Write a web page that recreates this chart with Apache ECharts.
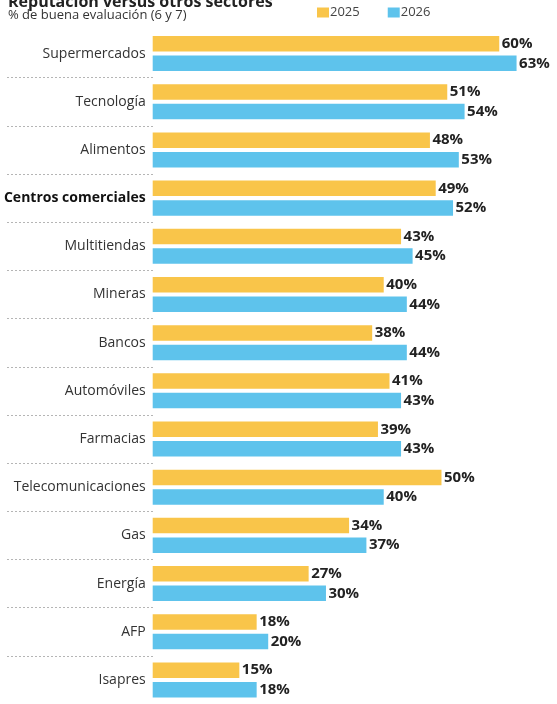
<!DOCTYPE html>
<html>
<head>
<meta charset="utf-8">
<script src="https://cdn.jsdelivr.net/npm/echarts@6/dist/echarts.min.js"></script>
<style>
html,body{margin:0;padding:0;background:#fff;overflow:hidden;}
#c{width:557px;height:704px;}
</style>
</head>
<body>
<div id="c"></div>
<script>
const categories = ['Supermercados','Tecnología','Alimentos','Centros comerciales','Multitiendas','Mineras','Bancos','Automóviles','Farmacias','Telecomunicaciones','Gas','Energía','AFP','Isapres'];
const values2025 = [60,51,48,49,43,40,38,41,39,50,34,27,18,15];
const values2026 = [63,54,53,52,45,44,44,43,43,40,37,30,20,18];
const seriesNames = ['2025','2026'];
const highlighted = 'Centros comerciales';

const FONT = '"Open Sans", sans-serif';
const chart = echarts.init(document.getElementById('c'));
const gridTop = 29.5, gridHeight = 682.5;
const labelStyle = {
  show: true, position: 'right', distance: 2.5,
  formatter: p => p.value + '%',
  fontFamily: FONT, fontSize: 15, fontWeight: 'bold', color: '#222'
};
chart.setOption({
  animation: false,
  backgroundColor: '#fff',
  title: [
    {text: 'Reputación versus otros sectores', left: 8, top: -5.5, padding: 0,
     textStyle: {fontFamily: FONT, fontSize: 16, fontWeight: 'bold', color: '#222'}},
    {text: '% de buena evaluación (6 y 7)', left: 8, top: 9, padding: 0,
     textStyle: {fontFamily: FONT, fontSize: 13, fontWeight: 'normal', color: '#333'}}
  ],
  legend: {
    left: 317, top: 6, padding: 0, itemWidth: 12, itemHeight: 10, itemGap: 28,
    icon: 'rect',
    textStyle: {fontFamily: FONT, fontSize: 13, color: '#444', padding: [0,0,0,-4]},
    data: seriesNames
  },
  grid: [
    {left: 152.7, top: gridTop, width: 410.2, height: gridHeight, containLabel: false},
    {left: 7, top: gridTop, width: 146, height: gridHeight, containLabel: false}
  ],
  xAxis: [
    {gridIndex: 0, type: 'value', min: 0, max: 70, show: false},
    {gridIndex: 1, type: 'value', min: 0, max: 1, show: false}
  ],
  yAxis: [
    {gridIndex: 0, type: 'category', data: categories, inverse: true,
     axisLine: {show: false}, axisTick: {show: false}, splitLine: {show: false},
     axisLabel: {
       margin: 7, fontFamily: FONT, fontSize: 14, color: '#333',
       formatter: v => v === highlighted ? '{b|' + v + '}' : v,
       rich: {b: {fontFamily: FONT, fontSize: 14, fontWeight: 'bold', color: '#111'}}
     }},
    {gridIndex: 1, type: 'category', data: categories, inverse: true,
     axisLine: {show: false}, axisTick: {show: false}, axisLabel: {show: false},
     splitLine: {show: true, interval: (i) => i > 0,
       lineStyle: {color: '#b5b5b5', width: 1, type: [2, 2]}}}
  ],
  series: [
    {name: seriesNames[0], type: 'bar', xAxisIndex: 0, yAxisIndex: 0, data: values2025,
     barWidth: 15.5, barGap: '26%', itemStyle: {color: '#F9C54A'}, label: labelStyle},
    {name: seriesNames[1], type: 'bar', xAxisIndex: 0, yAxisIndex: 0, data: values2026,
     barWidth: 15.5, barGap: '26%', itemStyle: {color: '#5EC3EC'}, label: labelStyle}
  ]
});
</script>
</body>
</html>
